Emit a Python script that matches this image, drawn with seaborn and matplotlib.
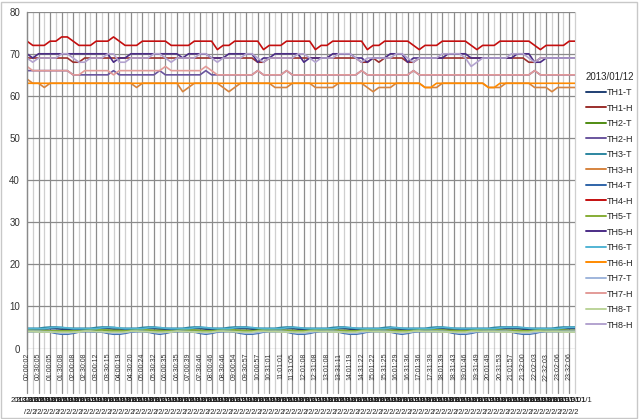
import matplotlib
matplotlib.use('Agg')
import numpy as np
import pandas as pd
import matplotlib.pyplot as plt
import seaborn as sns
from matplotlib.transforms import blended_transform_factory
from matplotlib.patches import Rectangle

# ---------------- data ----------------
times = ["00:00:02", "00:30:05", "01:00:05", "01:30:08", "02:00:08", "02:30:08",
         "03:00:12", "03:30:15", "04:00:19", "04:30:20", "05:00:24", "05:30:32",
         "06:00:35", "06:30:35", "07:00:39", "07:30:46", "08:00:46", "08:30:46",
         "09:00:54", "09:30:57", "10:00:57", "10:31:01", "11:01:01", "11:31:05",
         "12:01:08", "12:31:08", "13:01:08", "13:31:11", "14:01:19", "14:31:22",
         "15:01:22", "15:31:25", "16:01:29", "16:31:36", "17:01:36", "17:31:39",
         "18:01:39", "18:31:43", "19:01:46", "19:31:49", "20:01:49", "20:31:53",
         "21:01:57", "21:32:00", "22:02:03", "22:32:03", "23:02:06", "23:32:06"]
date_label = "2013/01/12"

th1_t = [4.6,4.6,4.6,4.6,4.7,4.7,4.6,4.6,4.6,4.6, 4.6,4.6,4.6,4.7,4.7,4.6,4.6,4.6,4.6,4.6,
         4.6,4.7,4.7,4.6,4.6,4.6,4.6,4.6,4.6,4.7, 4.7,4.6,4.6,4.6,4.6,4.6,4.7,4.7,4.7,4.6,
         4.6,4.6,4.6,4.6,4.6,4.7,4.7,4.6,4.6,4.6, 4.6,4.6,4.6,4.6,4.7,4.7,4.6,4.6,4.6,4.6,
         4.6,4.6,4.6,4.7,4.6,4.6,4.6,4.6,4.6,4.6, 4.6,4.7,4.7,4.6,4.6,4.6,4.6,4.6,4.6,4.6,
         4.6,4.6,4.6,4.7,4.7,4.7,4.6,4.6,4.6,4.6, 4.6,4.6,4.6,4.6,4.7,4.7]
th1_h = [69,69,69,69,69,69,69,69,68,68, 69,69,69,69,69,69,69,69,69,69,
         69,69,69,69,69,69,69,69,69,69, 69,69,69,69,69,69,69,69,69,69,
         68,68,69,69,69,69,69,69,69,69, 69,69,69,69,69,69,69,69,68,68,
         69,68,69,69,69,69,68,68,69,69, 69,69,69,69,69,69,69,69,69,69,
         69,69,69,69,69,69,69,68,68,69, 69,69,69,69,69,69]
th2_t = [4.3,4.3,4.2,4.2,4.1,4.1,4.1,4.1,4.1,4.1, 4.4,4.4,4.3,4.3,4.2,4.1,4.1,4.1,4.4,4.4,
         4.3,4.2,4.2,4.1,4.1,4.1,4.4,4.3,4.3,4.2, 4.1,4.1,4.1,4.4,4.4,4.3,4.2,4.2,4.1,4.1,
         4.4,4.4,4.3,4.3,4.2,4.2,4.1,4.1,4.1,4.4, 4.4,4.3,4.3,4.2,4.2,4.1,4.1,4.1,4.4,4.4,
         4.3,4.3,4.2,4.2,4.1,4.1,4.1,4.4,4.4,4.3, 4.3,4.3,4.2,4.2,4.1,4.1,4.1,4.4,4.4,4.3,
         4.3,4.3,4.2,4.2,4.2,4.1,4.1,4.1,4.4,4.4, 4.3,4.3,4.3,4.2,4.2,4.2]
th2_h = [66,66,66,66,66,66,66,66,65,65, 65,65,65,65,65,66,65,65,65,65,
         65,65,65,66,65,65,65,65,65,65, 65,66,65,65,65,65,65,65,65,65,
         66,65,65,65,65,66,65,65,65,65, 65,65,65,65,65,65,65,65,66,65,
         65,65,65,65,65,65,65,66,65,65, 65,65,65,65,65,65,65,65,65,65,
         65,65,65,65,65,65,65,65,66,65, 65,65,65,65,65,65]
th3_t = [4.8,4.8,4.8,5.0,5.1,5.1,5.0,4.8,4.8,4.8, 4.8,4.8,5.0,5.1,5.1,5.0,4.8,4.8,4.8,4.8,
         5.0,5.1,5.1,4.9,4.8,4.8,4.8,4.8,5.0,5.1, 5.1,4.9,4.8,4.8,4.8,5.0,5.1,5.1,5.1,4.9,
         4.8,4.8,4.8,4.8,5.0,5.1,5.1,4.9,4.8,4.8, 4.8,4.8,4.8,5.0,5.1,5.1,4.9,4.8,4.8,4.8,
         4.8,4.8,5.0,5.1,4.9,4.8,4.8,4.8,4.8,4.8, 5.0,5.1,5.1,4.9,4.8,4.8,4.8,4.8,4.8,4.8,
         4.8,5.0,5.1,5.1,5.1,5.1,4.9,4.8,4.8,4.8, 4.8,4.8,5.0,5.1,5.1,5.1]
th3_h = [64,63,63,62,63,63,63,63,63,63, 63,63,63,63,63,63,63,63,63,62,
         63,63,63,63,63,63,63,61,62,63, 63,63,63,63,62,61,62,63,63,63,
         63,63,63,62,62,62,63,63,63,63, 62,62,62,62,63,63,63,63,63,62,
         61,62,62,62,63,63,63,63,63,62, 62,62,63,63,63,63,63,63,63,63,
         62,62,62,63,63,63,63,63,62,62, 62,61,62,62,62,62]
th4_t = [4.0,4.0,4.0,3.9,3.9,3.6,3.4,3.4,3.6,3.9, 4.0,4.0,3.9,3.9,3.6,3.4,3.4,3.6,3.9,4.0,
         4.0,3.9,3.6,3.4,3.6,3.9,4.0,4.0,3.9,3.9, 3.6,3.4,3.6,3.9,4.0,4.0,3.9,3.6,3.4,3.4,
         3.6,3.9,4.0,4.0,4.0,3.9,3.6,3.4,3.4,3.6, 3.9,4.0,4.0,4.0,3.9,3.6,3.4,3.4,3.6,3.9,
         4.0,4.0,4.0,3.9,3.6,3.4,3.6,3.9,4.0,4.0, 4.0,4.0,4.0,3.9,3.6,3.4,3.4,3.6,3.9,4.0,
         4.0,4.0,4.0,4.0,3.9,3.6,3.4,3.4,3.6,3.9, 4.0,4.0,4.0,4.0,4.0,4.0]
th4_h = [73,72,72,72,73,73,74,74,73,72, 72,72,73,73,73,74,73,72,72,72,
         73,73,73,73,73,72,72,72,72,73, 73,73,73,71,72,72,73,73,73,73,
         73,71,72,72,72,73,73,73,73,73, 71,72,72,73,73,73,73,73,73,71,
         72,72,73,73,73,73,73,72,71,72, 72,72,73,73,73,73,73,72,71,72,
         72,72,73,73,73,73,73,73,72,71, 72,72,72,72,73,73]
th5_t = [4.4,4.3,4.3,4.3,4.2,4.2,4.2,4.2,4.2,4.2, 4.2,4.5,4.5,4.4,4.4,4.3,4.3,4.2,4.2,4.5,
         4.5,4.4,4.3,4.3,4.2,4.2,4.2,4.5,4.4,4.4, 4.3,4.2,4.2,4.2,4.5,4.5,4.4,4.3,4.3,4.2,
         4.2,4.5,4.5,4.4,4.4,4.3,4.3,4.2,4.2,4.2, 4.5,4.5,4.4,4.4,4.3,4.3,4.2,4.2,4.2,4.5,
         4.5,4.4,4.4,4.3,4.3,4.2,4.2,4.2,4.5,4.5, 4.4,4.4,4.4,4.3,4.3,4.2,4.2,4.2,4.5,4.5,
         4.4,4.4,4.4,4.3,4.3,4.3,4.2,4.2,4.2,4.5, 4.5,4.4,4.4,4.4,4.3,4.3]
th5_h = [70,69,70,70,70,70,70,70,70,70, 70,70,70,70,70,68,69,69,70,70,
         70,70,70,70,70,70,70,69,70,70, 70,70,69,69,69,70,70,70,70,70,
         68,69,69,70,70,70,70,70,68,69, 69,69,69,70,70,70,70,69,69,68,
         69,69,69,70,70,70,68,69,69,69, 69,69,69,70,70,70,70,69,69,69,
         69,69,69,69,69,70,70,70,68,68, 69,69,69,69,69,69]
th6_t = [4.7,4.7,4.7,4.7,4.9,5.0,5.0,4.9,4.7,4.7, 4.7,4.7,4.7,4.9,5.0,5.0,4.9,4.7,4.7,4.7,
         4.7,4.9,5.0,5.0,4.8,4.7,4.7,4.7,4.7,4.9, 5.0,5.0,4.8,4.7,4.7,4.7,4.9,5.0,5.0,5.0,
         4.8,4.7,4.7,4.7,4.7,4.9,5.0,5.0,4.8,4.7, 4.7,4.7,4.7,4.7,4.9,5.0,5.0,4.8,4.7,4.7,
         4.7,4.7,4.7,4.9,5.0,4.8,4.7,4.7,4.7,4.7, 4.7,4.9,5.0,5.0,4.8,4.7,4.7,4.7,4.7,4.7,
         4.7,4.7,4.9,5.0,5.0,5.0,5.0,4.8,4.7,4.7, 4.7,4.7,4.7,4.9,5.0,5.0]
th6_h = [63,63,63,63,63,63,63,63,63,63, 63,63,63,63,63,63,63,63,63,63,
         63,63,63,63,63,63,63,63,63,63, 63,63,63,63,63,63,63,63,63,63,
         63,63,63,63,63,63,63,63,63,63, 63,63,63,63,63,63,63,63,63,63,
         63,63,63,63,63,63,63,63,63,62, 62,63,63,63,63,63,63,63,63,63,
         62,62,63,63,63,63,63,63,63,63, 63,63,63,63,63,63]
th7_t = [4.1,4.1,4.1,4.0,4.0,3.8,3.6,3.6,3.8,4.0, 4.1,4.1,4.0,4.0,3.8,3.6,3.6,3.8,4.0,4.1,
         4.1,4.0,3.8,3.6,3.8,4.0,4.1,4.1,4.0,4.0, 3.8,3.6,3.8,4.0,4.1,4.1,4.0,3.8,3.6,3.6,
         3.8,4.0,4.1,4.1,4.1,4.0,3.8,3.6,3.6,3.8, 4.0,4.1,4.1,4.1,4.0,3.8,3.6,3.6,3.8,4.0,
         4.1,4.1,4.1,4.0,3.8,3.6,3.8,4.0,4.1,4.1, 4.1,4.1,4.1,4.0,3.8,3.6,3.6,3.8,4.0,4.1,
         4.1,4.1,4.1,4.1,4.0,3.8,3.6,3.6,3.8,4.0, 4.1,4.1,4.1,4.1,4.1,4.1]
th7_h = [67,66,66,66,66,66,66,66,65,65, 66,66,66,66,66,65,66,66,66,66,
         66,66,66,66,67,66,66,66,66,66, 66,67,66,65,65,65,65,65,65,65,
         66,65,65,65,65,66,65,65,65,65, 65,65,65,65,65,65,65,65,66,65,
         65,65,65,65,65,65,65,66,65,65, 65,65,65,65,65,65,65,65,65,65,
         65,65,65,65,65,65,65,65,66,65, 65,65,65,65,65,65]
th8_t = [4.0,4.0,3.9,3.9,3.9,3.9,3.9,3.9,3.9,3.9, 4.1,4.1,4.0,4.0,3.9,3.9,3.9,3.9,4.1,4.1,
         4.0,4.0,3.9,3.9,3.9,3.9,4.1,4.0,4.0,3.9, 3.9,3.9,3.9,4.1,4.1,4.0,4.0,3.9,3.9,3.9,
         4.1,4.1,4.0,4.0,3.9,3.9,3.9,3.9,3.9,4.1, 4.1,4.0,4.0,3.9,3.9,3.9,3.9,3.9,4.1,4.1,
         4.0,4.0,3.9,3.9,3.9,3.9,3.9,4.1,4.1,4.0, 4.0,4.0,3.9,3.9,3.9,3.9,3.9,4.1,4.1,4.0,
         4.0,4.0,3.9,3.9,3.9,3.9,3.9,3.9,4.1,4.1, 4.0,4.0,4.0,3.9,3.9,3.9]
th8_h = [69,68,69,69,69,69,70,70,69,68, 68,69,69,69,70,70,68,68,69,69,
         69,69,70,70,69,68,69,69,69,69, 70,70,69,68,69,69,69,69,70,70,
         69,68,69,69,69,69,69,70,70,69, 68,69,69,69,70,70,70,69,68,69,
         69,69,69,69,70,70,69,68,69,69, 69,69,70,70,70,70,69,67,68,69,
         69,69,69,69,70,70,70,69,68,69, 69,69,69,69,69,69]

series_names = ["TH1-T", "TH1-H", "TH2-T", "TH2-H", "TH3-T", "TH3-H", "TH4-T", "TH4-H",
                "TH5-T", "TH5-H", "TH6-T", "TH6-H", "TH7-T", "TH7-H", "TH8-T", "TH8-H"]
series_values = [th1_t, th1_h, th2_t, th2_h, th3_t, th3_h, th4_t, th4_h,
                 th5_t, th5_h, th6_t, th6_h, th7_t, th7_h, th8_t, th8_h]
colors = ["#1f3f73", "#9b2f2c", "#4f8c12", "#6a559e", "#2c86a0", "#d6843f", "#2f64a8", "#c40f0f",
          "#86ad35", "#4b2c86", "#52b4d4", "#ff8a00", "#9fb6dc", "#e39b98", "#bcd49a", "#b3a3cf"]

n = len(th1_t)
frames = []
for name, vals in zip(series_names, series_values):
    frames.append(pd.DataFrame({"idx": np.arange(n), "value": vals, "series": name}))
df = pd.concat(frames, ignore_index=True)

# ---------------- figure ----------------
sns.set_theme(style="white")
plt.rcParams['font.family'] = ['Liberation Sans', 'DejaVu Sans']

fig = plt.figure(figsize=(6.4, 4.19), dpi=100)
fig.patch.set_facecolor('white')
fig.add_artist(Rectangle((0.002, 0.003), 0.994, 0.993, transform=fig.transFigure,
                         fill=False, edgecolor='#c8c8c8', lw=1.0))

ax = fig.add_axes([27 / 640, (419 - 348.5) / 419, 548 / 640, 336.8 / 419])
ax.set_facecolor('white')

# vertical category lines (extend into label area)
trans = blended_transform_factory(ax.transData, ax.transAxes)
for i in range(n):
    c = '#8c8c8c' if i % 2 == 0 else '#cfcfcf'
    ax.plot([i, i], [1.0, -0.132], transform=trans, clip_on=False, color=c, lw=0.9, zorder=0.5)

sns.lineplot(data=df, x="idx", y="value", hue="series", hue_order=series_names,
             palette=dict(zip(series_names, colors)), ax=ax, linewidth=1.2, legend=True)

ax.set_xlim(0, n - 1)
ax.set_ylim(0, 80)
ax.set_yticks(range(0, 81, 10))
ax.yaxis.grid(True, color='#8a8a8a', lw=0.9)
ax.xaxis.grid(False)
ax.set_axisbelow(True)
for s in ['top', 'right', 'bottom']:
    ax.spines[s].set_visible(False)
ax.spines['left'].set_color('#8a8a8a')
ax.spines['left'].set_linewidth(0.9)
ax.tick_params(axis='y', length=0, pad=5, labelsize=7, labelcolor='#333333')
ax.set_xticks(range(0, n, 2))
ax.set_xticklabels(times, rotation=90, fontsize=5, color='#333333')
ax.tick_params(axis='x', length=0, pad=3)
ax.set_xlabel("")
ax.set_ylabel("")

# outer date labels (crowded, as in the original)
for i in range(n):
    ax.text(i, -0.145, "2013/01/1", transform=trans, ha='center', va='top',
            fontsize=5.5, color='#222222', clip_on=False)
    ax.text(i, -0.18, "/2", transform=trans, ha='center', va='top',
            fontsize=5.5, color='#222222', clip_on=False)

handles, labels = ax.get_legend_handles_labels()
ax.get_legend().remove()
leg = fig.legend(handles, labels, title=date_label, loc='upper left',
                 bbox_to_anchor=(582 / 640, 1 - 68 / 419), frameon=False,
                 fontsize=6.5, title_fontsize=7, handlelength=2.2, handletextpad=0.1,
                 labelspacing=0.72, borderaxespad=0)
for h in leg.get_lines():
    h.set_linewidth(1.4)

fig.savefig("out.png", dpi=100)
